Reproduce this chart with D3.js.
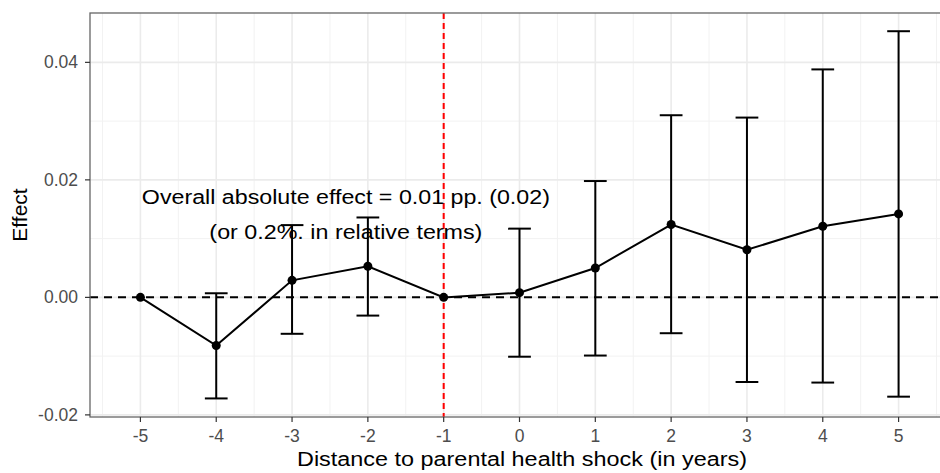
<!DOCTYPE html>
<html>
<head>
<meta charset="utf-8">
<script src="https://cdn.jsdelivr.net/npm/d3@7"></script>
<style>
  body { margin: 0; background: #fff; }
  svg { display: block; font-family: "Liberation Sans", Arial, sans-serif; }
</style>
</head>
<body>
<svg id="chart" width="940" height="473"></svg>
<script>
// event-study estimates by distance to parental health shock
const years     = [-5, -4, -3, -2, -1, 0, 1, 2, 3, 4, 5];
const estimates = [0, -0.0082, 0.0029, 0.0053, 0, 0.0008, 0.0050, 0.0124, 0.0081, 0.0121, 0.0142];
const lower     = [0, -0.0172, -0.0062, -0.0031, 0, -0.0101, -0.0099, -0.0061, -0.0144, -0.0145, -0.0169];
const upper     = [0, 0.0007, 0.0123, 0.0136, 0, 0.0117, 0.0198, 0.0310, 0.0306, 0.0388, 0.0453];

const yTicks = [-0.02, 0, 0.02, 0.04];
const yMinor = [-0.01, 0.01, 0.03];
const xMinor = [-5.5, -4.5, -3.5, -2.5, -1.5, -0.5, 0.5, 1.5, 2.5, 3.5, 4.5, 5.5];
const noteLines = ["Overall absolute effect = 0.01 pp. (0.02)", "(or 0.2%. in relative terms)"];

const rows = years.map((y, i) => ({ year: y, est: estimates[i], lo: lower[i], hi: upper[i] }));

const svg = d3.select("#chart");
const panel = { left: 90, top: 13, right: 949, bottom: 417 };

const x = d3.scaleLinear().domain([-5.665, 5.665]).range([panel.left, panel.right]);
const y = d3.scaleLinear().domain([-0.02036, 0.0484]).range([panel.bottom, panel.top]);

svg.append("defs").append("clipPath").attr("id", "clip")
  .append("rect")
  .attr("x", panel.left).attr("y", panel.top)
  .attr("width", panel.right - panel.left).attr("height", panel.bottom - panel.top);

const g = svg.append("g").attr("clip-path", "url(#clip)");

// grid
g.selectAll(".ymin").data(yMinor).join("line")
  .attr("x1", panel.left).attr("x2", panel.right)
  .attr("y1", d => y(d)).attr("y2", d => y(d))
  .attr("stroke", "#f2f2f2").attr("stroke-width", 1);
g.selectAll(".xmin").data(xMinor).join("line")
  .attr("y1", panel.top).attr("y2", panel.bottom)
  .attr("x1", d => x(d)).attr("x2", d => x(d))
  .attr("stroke", "#f2f2f2").attr("stroke-width", 1);
g.selectAll(".ymaj").data(yTicks).join("line")
  .attr("x1", panel.left).attr("x2", panel.right)
  .attr("y1", d => y(d)).attr("y2", d => y(d))
  .attr("stroke", "#ebebeb").attr("stroke-width", 1.6);
g.selectAll(".xmaj").data(years).join("line")
  .attr("y1", panel.top).attr("y2", panel.bottom)
  .attr("x1", d => x(d)).attr("x2", d => x(d))
  .attr("stroke", "#ebebeb").attr("stroke-width", 1.6);

// reference lines
g.append("line")
  .attr("x1", panel.left).attr("x2", panel.right)
  .attr("y1", y(0)).attr("y2", y(0))
  .attr("stroke", "#000").attr("stroke-width", 2)
  .attr("stroke-dasharray", "8,6");
g.append("line")
  .attr("x1", x(-1)).attr("x2", x(-1))
  .attr("y1", panel.top).attr("y2", panel.bottom)
  .attr("stroke", "#ff0000").attr("stroke-width", 2)
  .attr("stroke-dasharray", "6,4");

// error bars
const capHalf = 0.15;
const bars = g.selectAll(".err").data(rows.filter(d => d.hi !== d.lo)).join("g");
bars.append("line")
  .attr("x1", d => x(d.year)).attr("x2", d => x(d.year))
  .attr("y1", d => y(d.lo)).attr("y2", d => y(d.hi))
  .attr("stroke", "#000").attr("stroke-width", 2);
bars.append("line")
  .attr("x1", d => x(d.year - capHalf)).attr("x2", d => x(d.year + capHalf))
  .attr("y1", d => y(d.hi)).attr("y2", d => y(d.hi))
  .attr("stroke", "#000").attr("stroke-width", 2);
bars.append("line")
  .attr("x1", d => x(d.year - capHalf)).attr("x2", d => x(d.year + capHalf))
  .attr("y1", d => y(d.lo)).attr("y2", d => y(d.lo))
  .attr("stroke", "#000").attr("stroke-width", 2);

// line + points
g.append("path")
  .datum(rows)
  .attr("d", d3.line().x(d => x(d.year)).y(d => y(d.est)))
  .attr("fill", "none").attr("stroke", "#000").attr("stroke-width", 2);
g.selectAll(".pt").data(rows).join("circle")
  .attr("cx", d => x(d.year)).attr("cy", d => y(d.est))
  .attr("r", 4.5).attr("fill", "#000");

// annotation (widths)
const noteWidths = [408, 273];
g.selectAll(".note").data(noteLines).join("text")
  .attr("x", x(-2.29))
  .attr("y", (d, i) => y(0.0171) + i * 35)
  .attr("dy", "0.35em")
  .attr("text-anchor", "middle")
  .attr("font-size", "20px")
  .attr("textLength", (d, i) => noteWidths[i])
  .attr("lengthAdjust", "spacingAndGlyphs")
  .attr("fill", "#000")
  .text(d => d);

// panel border
svg.append("rect")
  .attr("x", panel.left).attr("y", panel.top)
  .attr("width", panel.right - panel.left).attr("height", panel.bottom - panel.top)
  .attr("fill", "none").attr("stroke", "#666").attr("stroke-width", 1.3);

// axes
const tickCol = "#4d4d4d";
svg.selectAll(".xt").data(years).join("line")
  .attr("x1", d => x(d)).attr("x2", d => x(d))
  .attr("y1", panel.bottom).attr("y2", panel.bottom + 5)
  .attr("stroke", "#333").attr("stroke-width", 1.2);
svg.selectAll(".xl").data(years).join("text")
  .attr("x", d => x(d)).attr("y", panel.bottom + 19)
  .attr("dy", "0.35em")
  .attr("text-anchor", "middle")
  .attr("font-size", "17.5px").attr("fill", tickCol)
  .text(d => d);
svg.selectAll(".yt").data(yTicks).join("line")
  .attr("x1", panel.left - 5).attr("x2", panel.left)
  .attr("y1", d => y(d)).attr("y2", d => y(d))
  .attr("stroke", "#333").attr("stroke-width", 1.2);
svg.selectAll(".yl").data(yTicks).join("text")
  .attr("x", panel.left - 12).attr("y", d => y(d))
  .attr("dy", "0.35em")
  .attr("text-anchor", "end")
  .attr("font-size", "17.5px").attr("fill", tickCol)
  .text(d => d3.format(".2f")(d).replace("−", "-"));

svg.append("text")
  .attr("x", 297).attr("y", 459)
  .attr("dy", "0.35em")
  .attr("text-anchor", "start")
  .attr("font-size", "20px").attr("fill", "#000")
  .attr("textLength", 450).attr("lengthAdjust", "spacingAndGlyphs")
  .text("Distance to parental health shock (in years)");
svg.append("text")
  .attr("transform", `translate(20,${(panel.top + panel.bottom) / 2}) rotate(-90)`)
  .attr("dy", "0.35em")
  .attr("text-anchor", "middle")
  .attr("font-size", "21px").attr("fill", "#000")
  .text("Effect");
</script>
</body>
</html>
